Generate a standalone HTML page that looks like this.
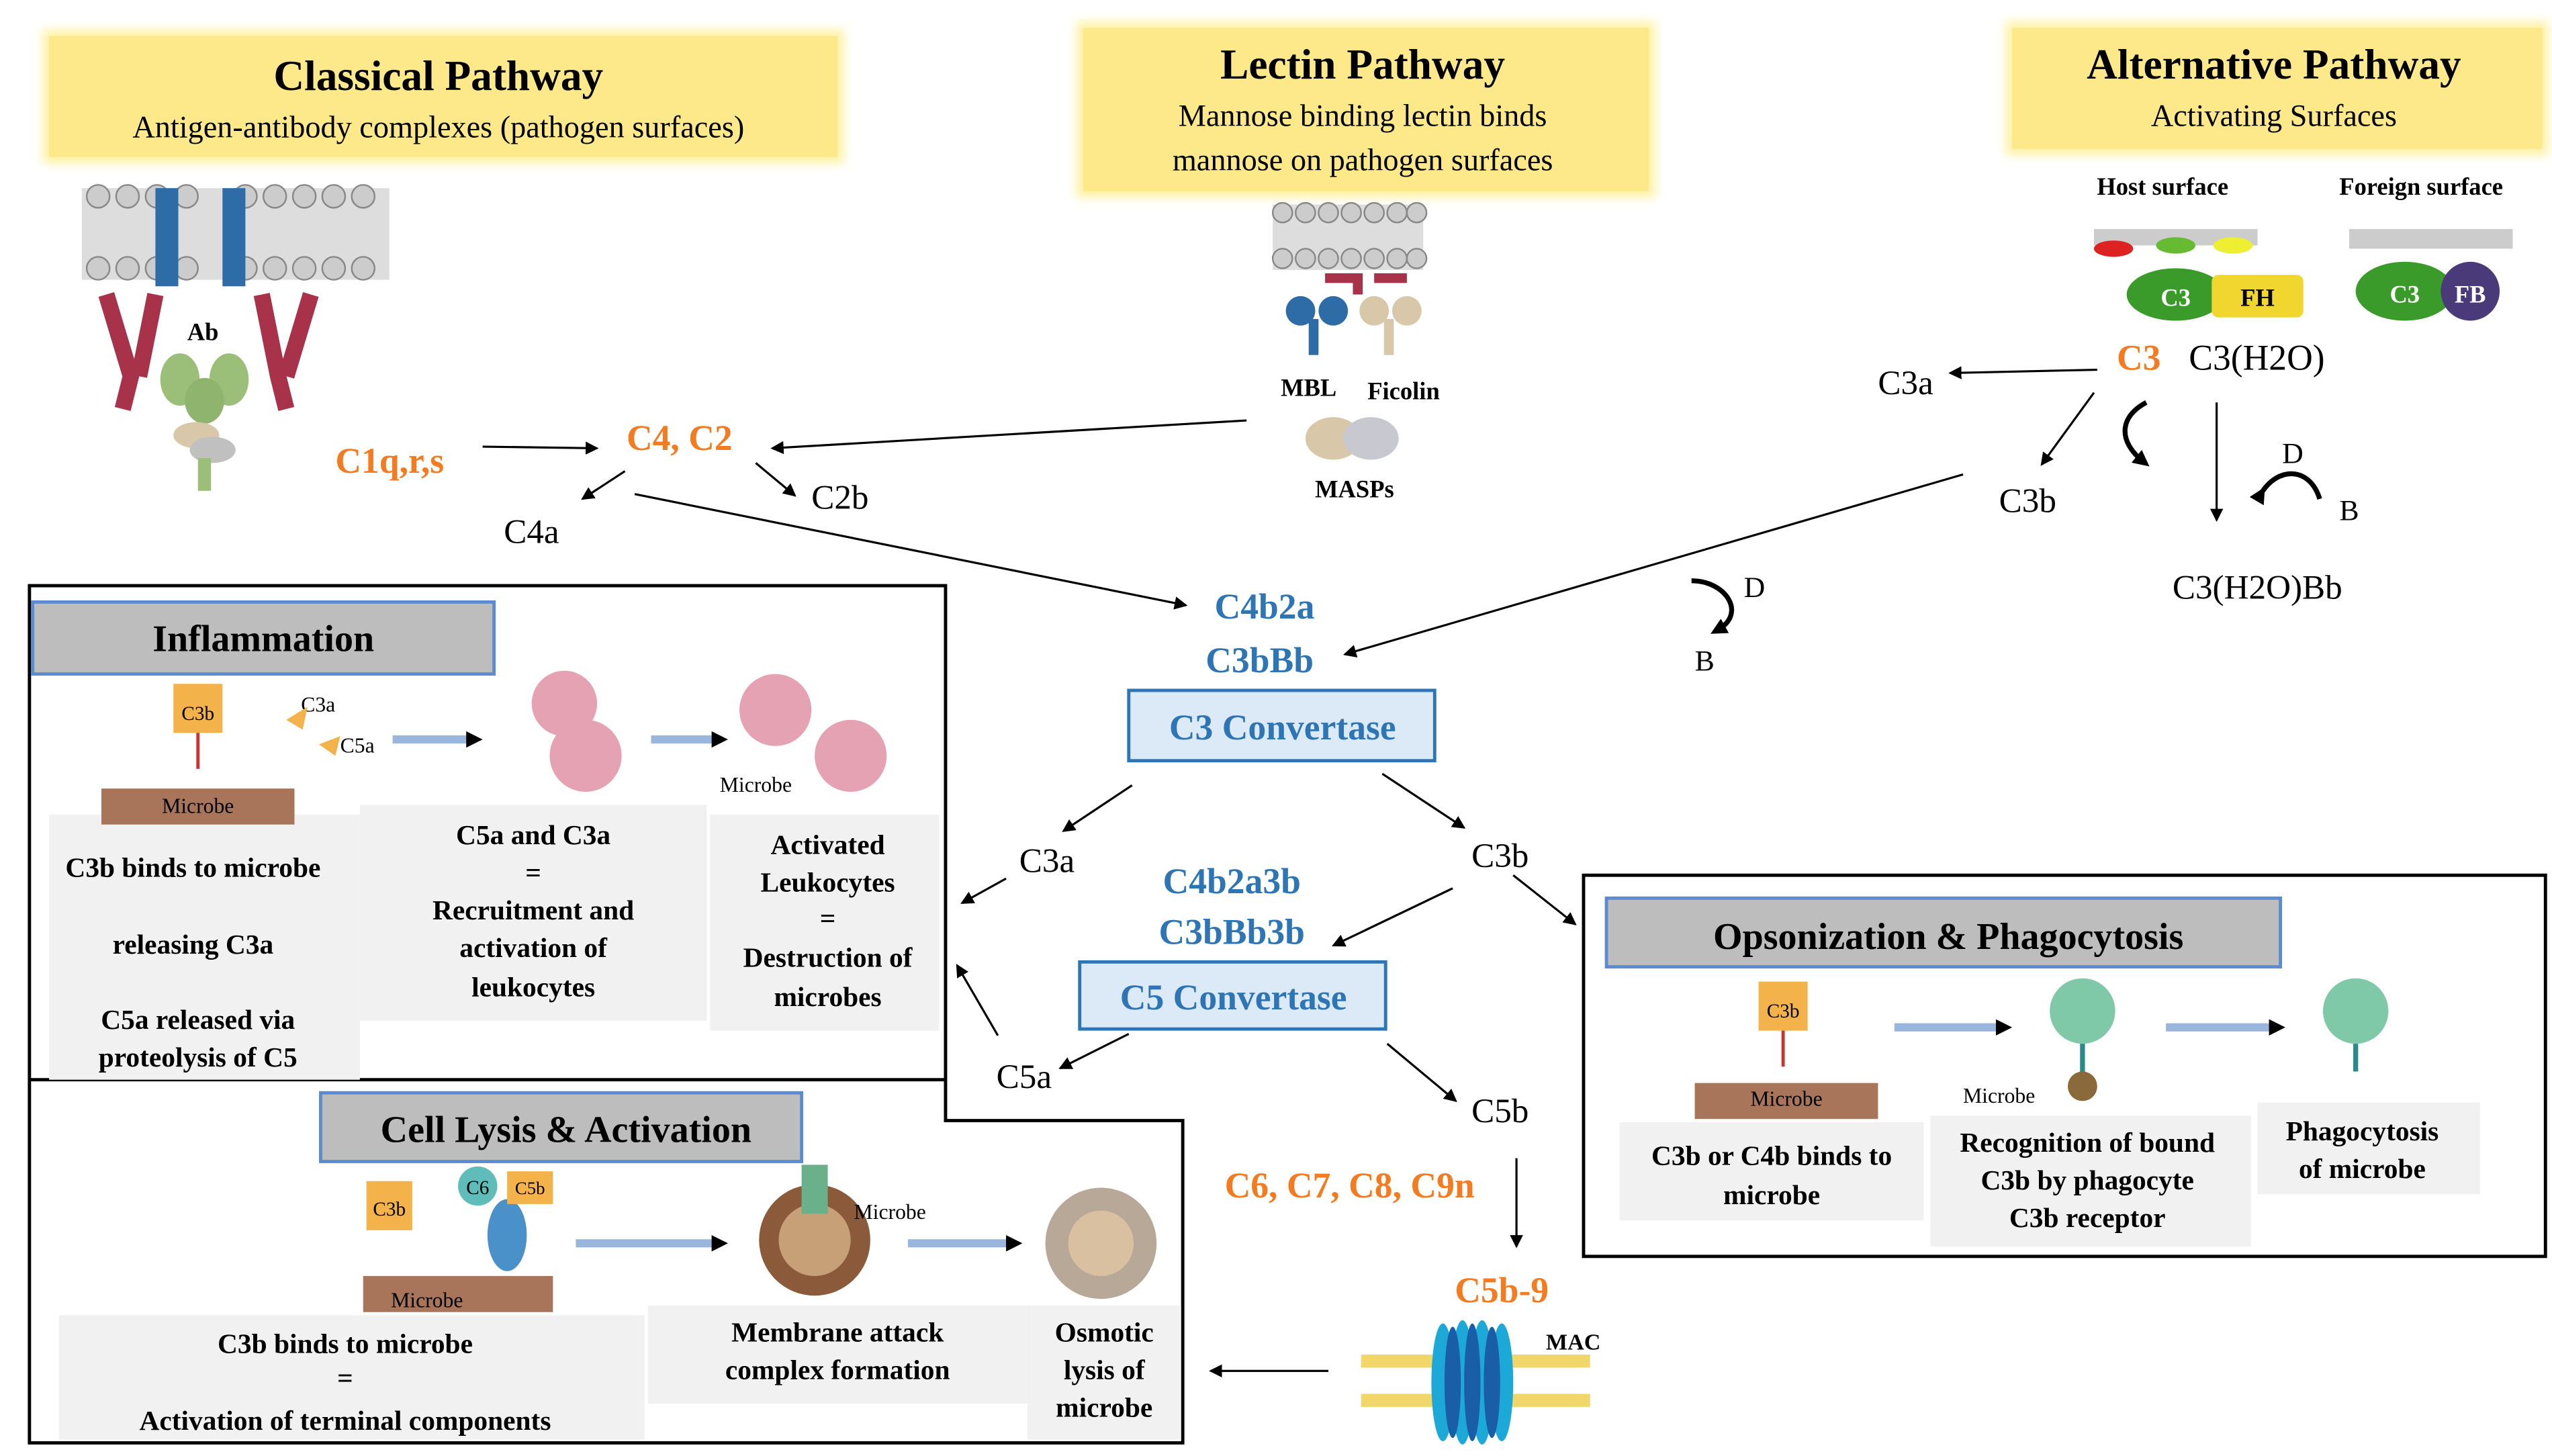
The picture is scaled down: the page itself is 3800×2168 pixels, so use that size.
<!DOCTYPE html>
<html><head><meta charset="utf-8"><style>
html,body{margin:0;padding:0;background:#fff;}
svg{display:block;}
text{font-family:"Liberation Serif",serif;}
.b{font-weight:bold;}
.or{fill:#f47b20;font-weight:bold;}
.bl{fill:#2e75b6;font-weight:bold;}
</style></head><body>
<svg width="3800" height="2168" viewBox="0 0 1560 890" xmlns="http://www.w3.org/2000/svg">
<defs>
<marker id="a" markerWidth="8" markerHeight="8" refX="7" refY="4" orient="auto" markerUnits="userSpaceOnUse"><path d="M0,0 L8,4 L0,8 z" fill="#000"/></marker>
<marker id="c" markerWidth="10" markerHeight="10" refX="5" refY="5" orient="auto" markerUnits="userSpaceOnUse"><path d="M0,0 L10,5 L0,10 z" fill="#000"/></marker>
<filter id="g" x="-10%" y="-20%" width="120%" height="140%"><feGaussianBlur stdDeviation="3"/></filter>
</defs>
<rect width="1560" height="890" fill="#fff"/>

<!-- yellow headers -->
<rect x="26" y="18" width="490" height="82" fill="#fff2a8" filter="url(#g)"/>
<rect x="30" y="22" width="482" height="74" fill="#fde88a"/>
<rect x="658" y="13" width="354" height="108" fill="#fff2a8" filter="url(#g)"/>
<rect x="662" y="17" width="346" height="100" fill="#fde88a"/>
<rect x="1226" y="13" width="332" height="82" fill="#fff2a8" filter="url(#g)"/>
<rect x="1230" y="17" width="324" height="74" fill="#fde88a"/>
<text x="268" y="55" font-size="26" class="b" text-anchor="middle">Classical Pathway</text>
<text x="268" y="84" font-size="19" text-anchor="middle">Antigen-antibody complexes (pathogen surfaces)</text>
<text x="833" y="48" font-size="26" class="b" text-anchor="middle">Lectin Pathway</text>
<text x="833" y="77" font-size="19" text-anchor="middle">Mannose binding lectin binds</text>
<text x="833" y="104" font-size="19" text-anchor="middle">mannose on pathogen surfaces</text>
<text x="1390" y="48" font-size="26" class="b" text-anchor="middle">Alternative Pathway</text>
<text x="1390" y="77" font-size="19" text-anchor="middle">Activating Surfaces</text>

<!-- classical image -->
<g>
<rect x="50" y="115" width="188" height="56" fill="#ddd"/>
<g fill="#ccc" stroke="#888">
<circle cx="60" cy="120" r="7"/><circle cx="78" cy="120" r="7"/><circle cx="96" cy="120" r="7"/><circle cx="114" cy="120" r="7"/><circle cx="150" cy="120" r="7"/><circle cx="168" cy="120" r="7"/><circle cx="186" cy="120" r="7"/><circle cx="204" cy="120" r="7"/><circle cx="222" cy="120" r="7"/>
<circle cx="60" cy="164" r="7"/><circle cx="78" cy="164" r="7"/><circle cx="96" cy="164" r="7"/><circle cx="114" cy="164" r="7"/><circle cx="150" cy="164" r="7"/><circle cx="168" cy="164" r="7"/><circle cx="186" cy="164" r="7"/><circle cx="204" cy="164" r="7"/><circle cx="222" cy="164" r="7"/>
</g>
<rect x="95" y="115" width="14" height="60" fill="#2e6ca8"/><rect x="136" y="115" width="14" height="60" fill="#2e6ca8"/>
<path d="M65,180 L80,230 L75,250 M95,180 L85,230 M160,180 L170,230 L175,250 M190,180 L175,230" stroke="#a8324a" stroke-width="10" fill="none"/>
<ellipse cx="110" cy="232" rx="12" ry="16" fill="#9bbf78"/><ellipse cx="140" cy="232" rx="12" ry="16" fill="#9bbf78"/><ellipse cx="125" cy="245" rx="12" ry="14" fill="#8fb46e"/>
<ellipse cx="120" cy="266" rx="14" ry="8" fill="#d8c7a8"/><ellipse cx="130" cy="275" rx="14" ry="8" fill="#c0c0c0"/>
<rect x="121" y="280" width="8" height="20" fill="#9bbf78"/>
<text x="124" y="208" font-size="15" class="b" text-anchor="middle">Ab</text>
</g>

<!-- lectin image -->
<g>
<rect x="778" y="125" width="92" height="40" fill="#ddd"/>
<g fill="#ccc" stroke="#888"><circle cx="784" cy="130" r="6"/><circle cx="798" cy="130" r="6"/><circle cx="812" cy="130" r="6"/><circle cx="826" cy="130" r="6"/><circle cx="840" cy="130" r="6"/><circle cx="854" cy="130" r="6"/><circle cx="866" cy="130" r="6"/>
<circle cx="784" cy="158" r="6"/><circle cx="798" cy="158" r="6"/><circle cx="812" cy="158" r="6"/><circle cx="826" cy="158" r="6"/><circle cx="840" cy="158" r="6"/><circle cx="854" cy="158" r="6"/><circle cx="866" cy="158" r="6"/></g>
<path d="M810,170 L830,170 L830,180 M840,170 L860,170" stroke="#a8324a" stroke-width="6" fill="none"/>
<circle cx="795" cy="190" r="9" fill="#2e6ca8"/><circle cx="815" cy="190" r="9" fill="#2e6ca8"/><rect x="800" y="195" width="6" height="22" fill="#2e6ca8"/>
<circle cx="840" cy="190" r="9" fill="#d8c7a8"/><circle cx="860" cy="190" r="9" fill="#d8c7a8"/><rect x="846" y="195" width="6" height="22" fill="#d8c7a8"/>
<text x="800" y="242" font-size="15" class="b" text-anchor="middle">MBL</text>
<text x="858" y="244" font-size="15" class="b" text-anchor="middle">Ficolin</text>
<ellipse cx="815" cy="268" rx="17" ry="13" fill="#d8c7a8"/><ellipse cx="838" cy="268" rx="17" ry="13" fill="#c8c8d0"/>
<text x="828" y="304" font-size="15" class="b" text-anchor="middle">MASPs</text>
</g>

<!-- alternative image -->
<g>
<text x="1322" y="119" font-size="15" class="b" text-anchor="middle">Host surface</text>
<text x="1480" y="119" font-size="15" class="b" text-anchor="middle">Foreign surface</text>
<rect x="1280" y="140" width="100" height="10" fill="#ccc"/>
<ellipse cx="1292" cy="152" rx="12" ry="5" fill="#d22"/><ellipse cx="1330" cy="150" rx="12" ry="5" fill="#6b3"/><ellipse cx="1365" cy="150" rx="12" ry="5" fill="#ee3"/>
<ellipse cx="1330" cy="180" rx="30" ry="16" fill="#3a9b2a"/><text x="1330" y="187" font-size="15" fill="#fff" class="b" text-anchor="middle" font-family="Liberation Sans">C3</text>
<rect x="1352" y="168" width="56" height="26" rx="4" fill="#f2d630"/><text x="1380" y="187" font-size="15" class="b" text-anchor="middle" font-family="Liberation Sans">FH</text>
<rect x="1436" y="140" width="100" height="12" fill="#ccc"/>
<ellipse cx="1470" cy="178" rx="30" ry="18" fill="#3a9b2a"/><text x="1470" y="185" font-size="15" fill="#fff" class="b" text-anchor="middle" font-family="Liberation Sans">C3</text>
<circle cx="1510" cy="178" r="18" fill="#4b3a7a"/><text x="1510" y="185" font-size="15" fill="#fff" class="b" text-anchor="middle" font-family="Liberation Sans">FB</text>
</g>

<!-- top labels -->
<text x="205" y="289" font-size="22" class="or">C1q,r,s</text>
<text x="383" y="275" font-size="22" class="or">C4, C2</text>
<text x="308" y="332" font-size="21">C4a</text>
<text x="496" y="311" font-size="21">C2b</text>
<text x="1294" y="226" font-size="22" class="or">C3</text>
<text x="1338" y="226" font-size="22">C3(H2O)</text>
<text x="1148" y="241" font-size="21">C3a</text>
<text x="1222" y="313" font-size="21">C3b</text>
<text x="1328" y="366" font-size="21">C3(H2O)Bb</text>
<text x="1395" y="283" font-size="18">D</text>
<text x="1430" y="318" font-size="18">B</text>
<text x="1066" y="365" font-size="18">D</text>
<text x="1036" y="410" font-size="18">B</text>
<path d="M1312,246 C1295,255 1295,270 1310,282" stroke="#000" stroke-width="3" fill="none" marker-end="url(#c)"/>
<path d="M1382,302 C1392,285 1412,285 1418,305" stroke="#000" stroke-width="3" fill="none" marker-start="url(#c)"/>
<path d="M1034,355 C1055,355 1068,375 1050,385" stroke="#000" stroke-width="3" fill="none" marker-end="url(#c)"/>

<!-- arrows top -->
<g stroke="#000" stroke-width="1.3" fill="none" marker-end="url(#a)">
<line x1="295" y1="273" x2="365" y2="274"/>
<line x1="762" y1="257" x2="472" y2="274"/>
<line x1="382" y1="288" x2="356" y2="305"/>
<line x1="462" y1="283" x2="486" y2="303"/>
<line x1="388" y1="302" x2="725" y2="370"/>
<line x1="1282" y1="226" x2="1192" y2="228"/>
<line x1="1280" y1="240" x2="1248" y2="284"/>
<line x1="1355" y1="246" x2="1355" y2="318"/>
<line x1="1200" y1="290" x2="822" y2="400"/>
<line x1="692" y1="480" x2="650" y2="508"/>
<line x1="845" y1="473" x2="895" y2="506"/>
<line x1="615" y1="537" x2="588" y2="552"/>
<line x1="888" y1="543" x2="815" y2="578"/>
<line x1="925" y1="535" x2="963" y2="565"/>
<line x1="690" y1="632" x2="648" y2="653"/>
<line x1="610" y1="633" x2="585" y2="590"/>
<line x1="848" y1="638" x2="890" y2="673"/>
<line x1="927" y1="708" x2="927" y2="762"/>
<line x1="812" y1="838" x2="740" y2="838"/>
</g>

<!-- center -->
<text x="773" y="378" font-size="22" class="bl" text-anchor="middle">C4b2a</text>
<text x="770" y="411" font-size="22" class="bl" text-anchor="middle">C3bBb</text>
<rect x="690" y="422" width="187" height="43" fill="#dce9f7" stroke="#2e75b6" stroke-width="2"/>
<text x="784" y="452" font-size="22" class="b" fill="#2e75b6" text-anchor="middle">C3 Convertase</text>
<text x="640" y="533" font-size="21" text-anchor="middle">C3a</text>
<text x="917" y="530" font-size="21" text-anchor="middle">C3b</text>
<text x="753" y="546" font-size="22" class="bl" text-anchor="middle">C4b2a3b</text>
<text x="753" y="577" font-size="22" class="bl" text-anchor="middle">C3bBb3b</text>
<rect x="660" y="588" width="187" height="41" fill="#dce9f7" stroke="#2e75b6" stroke-width="2"/>
<text x="754" y="617" font-size="22" class="b" fill="#2e75b6" text-anchor="middle">C5 Convertase</text>
<text x="626" y="665" font-size="21" text-anchor="middle">C5a</text>
<text x="917" y="686" font-size="21" text-anchor="middle">C5b</text>
<text x="825" y="732" font-size="22" class="or" text-anchor="middle">C6, C7, C8, C9n</text>
<text x="918" y="796" font-size="22" class="or" text-anchor="middle">C5b-9</text>
<!-- MAC -->
<g>
<rect x="832" y="828" width="140" height="8" fill="#f1d76a"/><rect x="832" y="852" width="140" height="8" fill="#f1d76a"/>
<g fill="#1da9d8"><ellipse cx="882" cy="845" rx="7" ry="36"/><ellipse cx="894" cy="845" rx="7" ry="38"/><ellipse cx="906" cy="845" rx="7" ry="38"/><ellipse cx="918" cy="845" rx="7" ry="36"/></g>
<g fill="#1a5ea8"><ellipse cx="888" cy="845" rx="5" ry="34"/><ellipse cx="900" cy="845" rx="5" ry="36"/><ellipse cx="912" cy="845" rx="5" ry="34"/></g>
<text x="945" y="825" font-size="14" class="b" font-family="Liberation Sans">MAC</text>
</g>

<!-- Inflammation box -->
<path d="M18,358 L578,358 L578,685 L723,685 L723,882 L18,882 Z" fill="none" stroke="#000" stroke-width="2"/>
<line x1="18" y1="660" x2="578" y2="660" stroke="#000" stroke-width="2"/>
<rect x="30" y="498" width="190" height="162" fill="#f1f1f1"/>
<rect x="220" y="492" width="212" height="132" fill="#f1f1f1"/>
<rect x="434" y="498" width="140" height="132" fill="#f1f1f1"/>
<rect x="20" y="368" width="282" height="44" fill="#bdbdbd" stroke="#5b8bd0" stroke-width="2"/>
<text x="161" y="398" font-size="23" class="b" text-anchor="middle">Inflammation</text>
<path d="M62,502 Q120,470 180,502 Z" fill="#b5856a"/><rect x="62" y="482" width="118" height="22" fill="#a8755a"/>
<text x="121" y="497" font-size="13" font-family="Liberation Sans" text-anchor="middle">Microbe</text>
<rect x="106" y="418" width="30" height="30" fill="#f3b24a"/><text x="121" y="440" font-size="12" font-family="Liberation Sans" text-anchor="middle">C3b</text>
<line x1="121" y1="448" x2="121" y2="470" stroke="#c33" stroke-width="2"/>
<text x="184" y="435" font-size="13" font-family="Liberation Sans">C3a</text><text x="208" y="460" font-size="13" font-family="Liberation Sans">C5a</text>
<path d="M175,440 L188,432 L185,446Z M195,455 L208,450 L205,462Z" fill="#f3b24a"/>
<path d="M240,452 L290,452" stroke="#9ab6dc" stroke-width="5" marker-end="url(#c)"/>
<circle cx="345" cy="430" r="20" fill="#e5a2b2"/><circle cx="358" cy="462" r="22" fill="#e5a2b2"/>
<path d="M398,452 L440,452" stroke="#9ab6dc" stroke-width="5" marker-end="url(#c)"/>
<circle cx="474" cy="434" r="22" fill="#e5a2b2"/><circle cx="520" cy="462" r="22" fill="#e5a2b2"/>
<text x="462" y="484" font-size="13" font-family="Liberation Sans" text-anchor="middle">Microbe</text>
<g font-size="17" class="b" text-anchor="middle">
<text x="118" y="536">C3b binds to microbe</text>
<text x="118" y="583">releasing C3a</text>
<text x="121" y="629">C5a released via</text>
<text x="121" y="652">proteolysis of C5</text>
<text x="326" y="516">C5a and C3a</text>
<text x="326" y="539">=</text>
<text x="326" y="562">Recruitment and</text>
<text x="326" y="585">activation of</text>
<text x="326" y="609">leukocytes</text>
<text x="506" y="522">Activated</text>
<text x="506" y="545">Leukocytes</text>
<text x="506" y="567">=</text>
<text x="506" y="591">Destruction of</text>
<text x="506" y="615">microbes</text>
</g>

<!-- Cell lysis -->
<rect x="36" y="804" width="358" height="76" fill="#f1f1f1"/>
<rect x="396" y="798" width="232" height="60" fill="#f1f1f1"/>
<rect x="628" y="798" width="94" height="82" fill="#f1f1f1"/>
<rect x="196" y="668" width="294" height="42" fill="#bdbdbd" stroke="#5b8bd0" stroke-width="2"/>
<text x="346" y="698" font-size="23" class="b" text-anchor="middle">Cell Lysis &amp; Activation</text>
<path d="M222,802 Q280,765 338,802 Z" fill="#b5856a"/><rect x="222" y="780" width="116" height="22" fill="#a8755a"/>
<text x="261" y="799" font-size="13" font-family="Liberation Sans" text-anchor="middle">Microbe</text>
<rect x="224" y="722" width="28" height="30" fill="#f3b24a"/><text x="238" y="743" font-size="12" font-family="Liberation Sans" text-anchor="middle">C3b</text>
<circle cx="292" cy="725" r="12" fill="#5fbcb8"/><text x="292" y="730" font-size="12" font-family="Liberation Sans" text-anchor="middle">C6</text>
<ellipse cx="310" cy="755" rx="12" ry="22" fill="#4a90c9"/><rect x="310" y="716" width="28" height="20" fill="#f3b24a"/>
<text x="324" y="730" font-size="11" font-family="Liberation Sans" text-anchor="middle">C5b</text>
<path d="M352,760 L440,760" stroke="#9ab6dc" stroke-width="5" marker-end="url(#c)"/>
<circle cx="498" cy="758" r="34" fill="#8a5a3a"/><circle cx="498" cy="758" r="22" fill="#c8a078"/><rect x="490" y="712" width="16" height="30" fill="#6ab08a"/>
<text x="522" y="745" font-size="13" font-family="Liberation Sans">Microbe</text>
<path d="M555,760 L620,760" stroke="#9ab6dc" stroke-width="5" marker-end="url(#c)"/>
<circle cx="673" cy="760" r="34" fill="#b8a898"/><circle cx="673" cy="760" r="20" fill="#d8c0a0"/>
<g font-size="17" class="b" text-anchor="middle">
<text x="211" y="827">C3b binds to microbe</text>
<text x="211" y="848">=</text>
<text x="211" y="874">Activation of terminal components</text>
<text x="512" y="820">Membrane attack</text>
<text x="512" y="843">complex formation</text>
<text x="675" y="820">Osmotic</text>
<text x="675" y="843">lysis of</text>
<text x="675" y="866">microbe</text>
</g>

<!-- Opsonization -->
<rect x="968" y="535" width="588" height="233" fill="none" stroke="#000" stroke-width="2"/>
<rect x="990" y="686" width="186" height="60" fill="#f1f1f1"/>
<rect x="1180" y="682" width="196" height="80" fill="#f1f1f1"/>
<rect x="1380" y="674" width="136" height="56" fill="#f1f1f1"/>
<rect x="982" y="549" width="412" height="42" fill="#bdbdbd" stroke="#5b8bd0" stroke-width="2"/>
<text x="1191" y="580" font-size="23" class="b" text-anchor="middle">Opsonization &amp; Phagocytosis</text>
<path d="M1036,682 Q1092,645 1148,682 Z" fill="#b5856a"/><rect x="1036" y="662" width="112" height="22" fill="#a8755a"/>
<text x="1092" y="676" font-size="13" font-family="Liberation Sans" text-anchor="middle">Microbe</text>
<rect x="1075" y="600" width="30" height="30" fill="#f3b24a"/><text x="1090" y="622" font-size="12" font-family="Liberation Sans" text-anchor="middle">C3b</text>
<line x1="1090" y1="630" x2="1090" y2="652" stroke="#c33" stroke-width="2"/>
<path d="M1158,628 L1225,628" stroke="#9ab6dc" stroke-width="5" marker-end="url(#c)"/>
<circle cx="1273" cy="618" r="20" fill="#7fc8a8"/><line x1="1273" y1="638" x2="1273" y2="660" stroke="#2a8a8a" stroke-width="3"/>
<circle cx="1273" cy="664" r="9" fill="#8a6a3a"/>
<text x="1222" y="674" font-size="13" font-family="Liberation Sans" text-anchor="middle">Microbe</text>
<path d="M1324,628 L1392,628" stroke="#9ab6dc" stroke-width="5" marker-end="url(#c)"/>
<circle cx="1440" cy="618" r="20" fill="#7fc8a8"/><line x1="1440" y1="638" x2="1440" y2="655" stroke="#2a8a8a" stroke-width="3"/>
<g font-size="17" class="b" text-anchor="middle">
<text x="1083" y="712">C3b or C4b binds to</text>
<text x="1083" y="736">microbe</text>
<text x="1276" y="704">Recognition of bound</text>
<text x="1276" y="727">C3b by phagocyte</text>
<text x="1276" y="750">C3b receptor</text>
<text x="1444" y="697">Phagocytosis</text>
<text x="1444" y="720">of microbe</text>
</g>
</svg>
</body></html>
